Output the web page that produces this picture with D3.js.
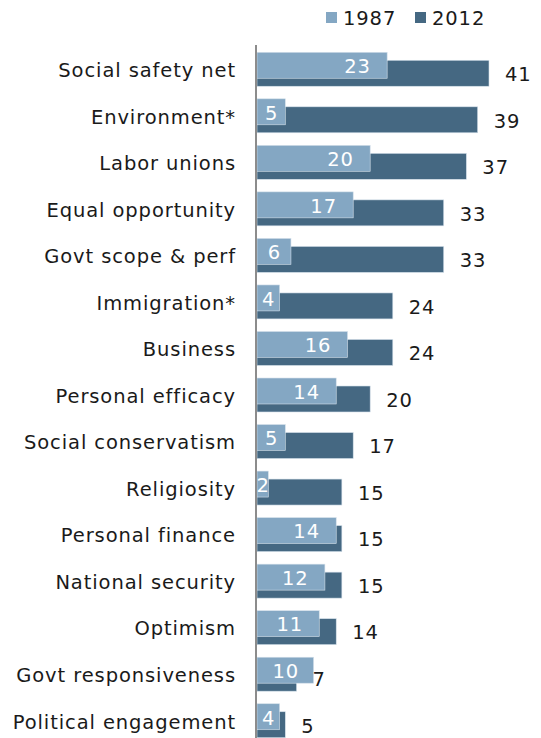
<!DOCTYPE html>
<html><head><meta charset="utf-8">
<script src="https://cdn.jsdelivr.net/npm/d3@7"></script>
<style>
html,body{margin:0;padding:0;background:#fff;}
svg{display:block;font-family:"DejaVu Sans",Verdana,sans-serif;}
</style></head>
<body><svg id="chart" width="541" height="738"></svg>
<script>
const categories = ["Social safety net","Environment*","Labor unions","Equal opportunity","Govt scope & perf","Immigration*","Business","Personal efficacy","Social conservatism","Religiosity","Personal finance","National security","Optimism","Govt responsiveness","Political engagement"];
const values1987 = [23,5,20,17,6,4,16,14,5,2,14,12,11,10,4];
const values2012 = [41,39,37,33,33,24,24,20,17,15,15,15,14,7,5];
const seriesNames = ["1987","2012"];
const colors = ["#84a7c3","#456882"];

const svg = d3.select("#chart");
const x0 = 257;
const x = d3.scaleLinear().domain([0,41]).range([x0,489]);
const y = d3.scaleBand().domain(categories).range([46,744]).paddingInner(0.27).paddingOuter(0.135);
const bw = y.bandwidth();
const barH = bw*26/34, off = bw*8/34;
const fs = 19.5, ls = 0.9, dy = "0.4em";

const g = svg.append("g");
// 2012 bars (behind)
g.selectAll("rect.b2012").data(categories).join("rect")
  .attr("x", x0).attr("y", d=>y(d)+off)
  .attr("width", (d,i)=>x(values2012[i])-x0).attr("height", barH)
  .attr("fill", colors[1]).attr("stroke","#d4e0ea").attr("stroke-width",0.6);
// 1987 bars
g.selectAll("rect.b1987").data(categories).join("rect")
  .attr("x", x0).attr("y", d=>y(d))
  .attr("width", (d,i)=>x(values1987[i])-x0).attr("height", barH)
  .attr("fill", colors[0]).attr("stroke","#d4e0ea").attr("stroke-width",0.6);

// 1987 labels inside
g.selectAll("text.l1987").data(categories).join("text")
  .attr("x", (d,i)=>{const e=x(values1987[i]); return Math.max(e-30,(x0+e)/2)+ls/2;})
  .attr("y", d=>y(d)+barH/2).attr("dy",dy)
  .attr("text-anchor","middle").attr("fill","#fff").attr("font-size",fs).attr("letter-spacing",ls)
  .text((d,i)=>values1987[i]);
// 2012 labels outside
g.selectAll("text.l2012").data(categories).join("text")
  .attr("x", (d,i)=>x(values2012[i])+16)
  .attr("y", d=>y(d)+off+barH/2).attr("dy",dy)
  .attr("text-anchor","start").attr("fill","#1a1a1a").attr("font-size",fs).attr("letter-spacing",ls)
  .text((d,i)=>values2012[i]);

// axis
const yAxis = d3.axisLeft(y).tickSize(0).tickPadding(20);
const ag = svg.append("g").attr("transform",`translate(${x0-1},0)`).call(yAxis);
ag.select(".domain").attr("stroke","#8c8c8c").attr("stroke-width",2).attr("d","M0,45V738");
ag.selectAll(".tick text").attr("font-size",fs).attr("fill","#1a1a1a").attr("letter-spacing",ls)
  .attr("dy",dy).attr("font-family",'"DejaVu Sans",Verdana,sans-serif');

// legend
const leg = svg.append("g");
const legX = [326,415];
seriesNames.forEach((s,i)=>{
  leg.append("rect").attr("x",legX[i]).attr("y",12).attr("width",11).attr("height",11).attr("fill",colors[i]);
  leg.append("text").attr("x",legX[i]+17).attr("y",17.5).attr("dy",dy)
    .attr("font-size",fs).attr("letter-spacing",ls).attr("fill","#1a1a1a").text(s);
});
</script></body></html>
